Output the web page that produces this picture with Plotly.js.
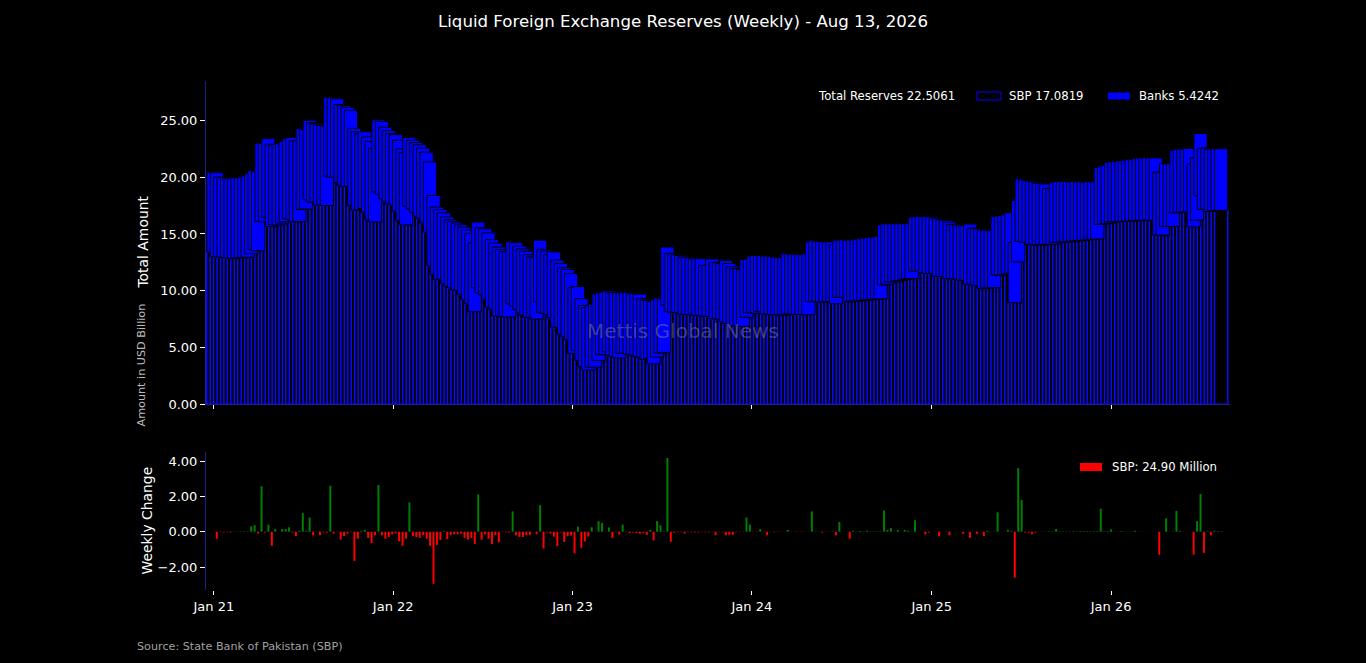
<!DOCTYPE html>
<html>
<head>
<meta charset="utf-8">
<script src="https://cdn.plot.ly/plotly-3.0.1.min.js"></script>
<style>
  html, body { margin: 0; padding: 0; background: #000; }
  #chart { width: 1366px; height: 663px; }
</style>
</head>
<body>
<div id="chart"></div>
<script>
// weekly liquid reserves, USD billion, one value per Thursday release
var first_release = '2020-12-31';

// SBP held reserves
var sbp = [
  13.41, 13.01, 12.99, 12.95, 12.93, 12.89, 12.87, 12.88, 12.90, 12.93,
  12.95, 13.25, 13.62, 13.52, 16.10, 16.05, 16.45, 15.65, 15.80, 15.80,
  15.95, 16.10, 16.35, 16.30, 16.05, 16.10, 17.15, 17.20, 18.00, 17.80,
  17.78, 17.58, 17.55, 17.50, 20.10, 20.00, 19.98, 19.53, 19.28, 19.18,
  19.15, 17.50, 17.10, 17.15, 17.25, 16.90, 16.25, 16.05, 18.70, 18.50,
  18.10, 17.80, 17.65, 17.55, 17.00, 16.20, 15.80, 17.45, 17.20, 16.90,
  16.55, 16.35, 15.95, 15.15, 12.20, 11.45, 10.98, 11.02, 10.60, 10.40,
  10.25, 10.10, 10.00, 9.65, 9.20, 8.85, 8.15, 10.25, 9.80, 9.65,
  9.25, 8.55, 8.35, 7.75, 7.77, 7.74, 7.69, 8.84, 8.64, 8.34,
  8.04, 7.84, 7.64, 7.64, 7.50, 9.00, 8.05, 8.00, 7.90, 7.62,
  6.80, 6.76, 6.18, 5.92, 5.70, 4.48, 4.76, 3.85, 3.30, 3.02,
  3.27, 3.26, 3.86, 4.36, 4.38, 4.62, 4.27, 4.24, 4.08, 4.48,
  4.50, 4.42, 4.38, 4.31, 4.20, 4.13, 3.95, 4.05, 3.56, 4.16,
  4.52, 4.55, 8.73, 8.16, 8.10, 8.08, 8.05, 7.95, 7.93, 7.90,
  7.86, 7.82, 7.80, 7.77, 7.74, 7.72, 7.52, 7.50, 7.47, 7.27,
  7.10, 6.92, 6.90, 6.88, 6.86, 7.66, 8.06, 8.04, 8.02, 8.17,
  8.15, 7.95, 7.93, 7.90, 7.88, 7.87, 7.86, 7.96, 7.95, 7.93,
  7.92, 7.90, 7.89, 7.88, 9.03, 9.05, 9.06, 9.01, 9.02, 9.03,
  9.05, 8.85, 9.40, 9.41, 9.42, 9.02, 9.07, 9.08, 9.12, 9.14,
  9.20, 9.22, 9.24, 9.26, 9.28, 10.48, 10.58, 10.78, 10.79, 10.89,
  10.90, 11.00, 11.05, 11.06, 11.71, 11.72, 11.72, 11.57, 11.52, 11.52,
  11.51, 11.26, 11.26, 11.25, 11.05, 11.05, 11.04, 11.04, 10.92, 10.92,
  10.57, 10.56, 10.44, 10.44, 10.19, 10.24, 10.25, 10.27, 11.37, 11.38,
  11.39, 11.49, 11.54, 8.94, 12.54, 14.34, 14.29, 14.24, 14.09, 14.04,
  14.04, 14.05, 14.06, 14.08, 14.10, 14.25, 14.27, 14.29, 14.31, 14.33,
  14.36, 14.38, 14.41, 14.44, 14.47, 14.50, 14.52, 14.55, 15.85, 15.88,
  15.92, 16.05, 16.06, 16.07, 16.10, 16.11, 16.12, 16.13, 16.18, 16.19,
  16.20, 16.20, 16.21, 16.21, 16.20, 14.90, 14.90, 15.65, 15.66, 15.67,
  16.85, 16.90, 16.91, 16.92, 16.92, 15.62, 16.22, 18.35, 17.15, 17.18,
  16.98, 17.03, 17.057, 17.0819
];

// commercial banks' reserves
var banks = [
  7.04, 7.39, 7.01, 7.05, 7.02, 7.01, 7.03, 7.07, 7.05, 7.07,
  7.15, 7.05, 6.98, 6.98, 6.90, 6.95, 6.95, 7.25, 7.05, 7.10,
  7.00, 7.05, 7.05, 7.20, 7.15, 7.10, 7.15, 7.00, 7.00, 7.00,
  6.92, 7.02, 7.00, 7.00, 6.95, 7.00, 6.92, 6.87, 7.02, 6.97,
  6.75, 6.80, 6.90, 6.70, 6.75, 6.65, 6.90, 6.50, 6.35, 6.40,
  6.30, 6.30, 6.20, 6.20, 6.25, 6.30, 6.35, 6.05, 6.05, 6.15,
  6.30, 6.22, 6.25, 6.20, 6.20, 5.92, 6.15, 5.85, 5.90, 5.85,
  5.85, 5.85, 5.80, 5.95, 6.15, 6.20, 6.05, 5.80, 5.75, 5.80,
  5.85, 5.95, 5.85, 6.10, 5.85, 5.70, 5.75, 5.50, 5.60, 5.60,
  5.65, 5.65, 5.55, 5.40, 5.45, 5.45, 5.60, 5.50, 5.30, 5.80,
  5.90, 5.65, 5.85, 5.95, 5.80, 5.80, 5.60, 5.45, 5.40, 5.50,
  5.45, 5.55, 5.85, 5.45, 5.50, 5.35, 5.55, 5.60, 5.75, 5.35,
  5.35, 5.45, 5.40, 5.45, 5.50, 5.20, 5.25, 5.10, 5.50, 5.05,
  4.85, 4.75, 5.12, 5.14, 5.16, 5.10, 5.05, 5.02, 5.04, 5.00,
  4.96, 5.03, 5.02, 4.45, 4.50, 5.08, 4.98, 5.00, 4.93, 5.40,
  5.30, 5.18, 5.04, 5.06, 5.04, 5.10, 4.70, 5.02, 5.08, 4.95,
  4.95, 5.10, 5.12, 5.10, 5.08, 5.05, 5.07, 5.30, 5.30, 5.28,
  5.30, 5.32, 5.30, 5.35, 5.26, 5.39, 5.30, 5.35, 5.30, 5.27,
  5.25, 5.20, 5.05, 5.05, 5.08, 5.40, 5.40, 5.40, 5.42, 5.45,
  5.44, 5.45, 5.46, 5.47, 5.52, 5.32, 5.32, 5.12, 5.11, 5.01,
  5.00, 4.90, 4.85, 4.84, 4.79, 4.80, 4.83, 4.98, 5.03, 4.98,
  4.90, 5.09, 5.00, 4.95, 5.00, 4.80, 4.78, 4.76, 4.86, 4.85,
  5.30, 4.95, 5.06, 5.02, 5.21, 5.10, 5.07, 5.03, 5.18, 5.20,
  5.24, 5.20, 5.33, 5.30, 5.41, 5.52, 5.51, 5.48, 5.56, 5.53,
  5.46, 5.40, 5.34, 4.92, 4.92, 5.30, 5.33, 5.36, 5.32, 5.30,
  5.22, 5.24, 5.18, 5.16, 5.10, 5.12, 5.08, 5.05, 5.02, 5.10,
  5.12, 5.25, 5.30, 5.31, 5.32, 5.35, 5.38, 5.42, 5.40, 5.45,
  5.48, 5.50, 5.52, 5.50, 5.50, 5.55, 5.55, 5.55, 5.52, 5.53,
  5.55, 5.55, 5.58, 5.58, 5.60, 5.55, 5.50, 5.50, 5.40, 5.38,
  5.47, 5.45, 5.44, 5.4242
];

var title_text = 'Liquid Foreign Exchange Reserves (Weekly) - Aug 13, 2026';
var source_text = 'Source: State Bank of Pakistan (SBP)';
var watermark = 'Mettis Global News';

var DAY = 86400000;

// release dates, one per week
var make_weeks = function (start, n) {
  var t0 = Date.parse(start + 'T00:00:00Z');
  var out = [];
  for (var i = 0; i < n; i++) {
    out.push(new Date(t0 + i * 7 * DAY).toISOString().slice(0, 10));
  }
  return out;
};

var dates = make_weeks(first_release, sbp.length);

// week on week change in SBP reserves
var chg_x = [];
var chg_y = [];
var chg_col = [];
for (var i = 1; i < sbp.length; i++) {
  var d = sbp[i] - sbp[i - 1];
  chg_x.push(dates[i]);
  chg_y.push(d);
  chg_col.push(d >= 0 ? '#008000' : '#ff0000');
}

var last = sbp.length - 1;
var total_last = sbp[last] + banks[last];
var last_chg_mn = chg_y[chg_y.length - 1] * 1000;

var trace_sbp = {
  x: dates,
  y: sbp,
  type: 'bar',
  width: 27 * DAY,
  marker: {color: '#000000', line: {color: '#0a0aff', width: 1.5}},
  xaxis: 'x', yaxis: 'y',
  hoverinfo: 'skip'
};

var trace_banks = {
  x: dates,
  y: banks,
  base: sbp,
  type: 'bar',
  width: 27 * DAY,
  marker: {color: '#0000ff', line: {color: '#000000', width: 1}},
  xaxis: 'x', yaxis: 'y',
  hoverinfo: 'skip'
};

var trace_chg = {
  x: chg_x,
  y: chg_y,
  type: 'bar',
  width: 4 * DAY,
  marker: {color: chg_col, line: {width: 0}},
  xaxis: 'x2', yaxis: 'y2',
  hoverinfo: 'skip'
};

// paper coordinates for a pixel position inside the plot area
var PL = 206, PW = 1024, PT = 81, PH = 509;
var px = function (p) { return (p - PL) / PW; };
var py = function (p) { return (PT + PH - p) / PH; };

var axis_line = '#1c1c8c';

var layout = {
  width: 1366,
  height: 663,
  paper_bgcolor: '#000000',
  plot_bgcolor: '#000000',
  font: {family: 'DejaVu Sans', color: '#ffffff', size: 13},
  margin: {l: PL, r: 1366 - PL - PW, t: PT, b: 663 - PT - PH},
  barmode: 'overlay',
  showlegend: false,
  hovermode: false,
  title: {
    text: title_text,
    x: 0.5, xref: 'container',
    y: 1 - 21 / 663, yref: 'container', yanchor: 'middle',
    font: {size: 16.6, color: '#ffffff'}
  },
  xaxis: {
    type: 'date',
    domain: [0, 1],
    anchor: 'y',
    range: ['2020-12-16', '2026-08-31'],
    tick0: '2021-01-01',
    dtick: 'M12',
    showticklabels: false,
    ticks: 'outside', ticklen: 4, tickcolor: '#ffffff',
    showgrid: false, zeroline: false,
    showline: true, linecolor: axis_line, linewidth: 1
  },
  xaxis2: {
    type: 'date',
    domain: [0, 1],
    anchor: 'y2',
    matches: 'x',
    tick0: '2021-01-01',
    dtick: 'M12',
    tickformat: '%b %y',
    ticks: 'outside', ticklen: 4, tickcolor: '#ffffff',
    tickfont: {size: 13, color: '#ffffff'},
    showgrid: false, zeroline: false, showline: false
  },
  yaxis: {
    domain: [py(404.3), 1],
    range: [0, 28.47],
    tickvals: [0, 5, 10, 15, 20, 25],
    tickformat: '.2f',
    ticks: 'outside', ticklen: 5, tickcolor: '#ffffff',
    tickfont: {size: 13, color: '#ffffff'},
    showgrid: false, zeroline: false,
    showline: true, linecolor: axis_line, linewidth: 1
  },
  yaxis2: {
    domain: [0, py(451.7)],
    range: [-3.3, 4.53],
    tickvals: [-2, 0, 2, 4],
    tickformat: '.2f',
    ticks: 'outside', ticklen: 5, tickcolor: '#ffffff',
    tickfont: {size: 13, color: '#ffffff'},
    showgrid: false, zeroline: false,
    showline: true, linecolor: axis_line, linewidth: 1
  },
  shapes: [
    // legend swatches
    {type: 'rect', xref: 'paper', yref: 'paper',
     x0: px(977), x1: px(1001), y0: py(100), y1: py(92),
     fillcolor: '#000000', line: {color: '#0000ff', width: 1}},
    {type: 'rect', xref: 'paper', yref: 'paper',
     x0: px(1108), x1: px(1130), y0: py(99.5), y1: py(92.5),
     fillcolor: '#0000ff', line: {width: 0}},
    {type: 'rect', xref: 'paper', yref: 'paper',
     x0: px(1080), x1: px(1102), y0: py(471), y1: py(463),
     fillcolor: chg_col[0], line: {width: 0}}
  ],
  annotations: [
    {text: watermark, xref: 'paper', yref: 'paper', x: px(683), y: py(331),
     xanchor: 'center', yanchor: 'middle', showarrow: false,
     font: {size: 20, color: 'rgba(140,140,140,0.45)'}},
    {text: 'Total Amount', xref: 'paper', yref: 'paper', x: px(142), y: py(242.5),
     textangle: -90, xanchor: 'center', yanchor: 'middle', showarrow: false,
     font: {size: 13.9, color: '#ffffff'}},
    {text: 'Amount in USD Billion', xref: 'paper', yref: 'paper', x: px(141), y: py(365.5),
     textangle: -90, xanchor: 'center', yanchor: 'middle', showarrow: false,
     font: {size: 11.2, color: '#bbbbbb'}},
    {text: 'Weekly Change', xref: 'paper', yref: 'paper', x: px(146), y: py(520.5),
     textangle: -90, xanchor: 'center', yanchor: 'middle', showarrow: false,
     font: {size: 13.9, color: '#ffffff'}},
    {text: 'Total Reserves ' + total_last.toFixed(4), xref: 'paper', yref: 'paper',
     x: px(816), y: py(96), xanchor: 'left', yanchor: 'middle', showarrow: false,
     font: {size: 11.7, color: '#ffffff'}},
    {text: 'SBP ' + sbp[last].toFixed(4), xref: 'paper', yref: 'paper',
     x: px(1007), y: py(96), xanchor: 'left', yanchor: 'middle', showarrow: false,
     font: {size: 11.7, color: '#ffffff'}},
    {text: 'Banks ' + banks[last].toFixed(4), xref: 'paper', yref: 'paper',
     x: px(1137), y: py(96), xanchor: 'left', yanchor: 'middle', showarrow: false,
     font: {size: 11.7, color: '#ffffff'}},
    {text: 'SBP: ' + last_chg_mn.toFixed(2) + ' Million', xref: 'paper', yref: 'paper',
     x: px(1110), y: py(467), xanchor: 'left', yanchor: 'middle', showarrow: false,
     font: {size: 11.7, color: '#ffffff'}},
    {text: source_text, xref: 'paper', yref: 'paper', x: px(135), y: py(646),
     xanchor: 'left', yanchor: 'middle', showarrow: false,
     font: {size: 11.2, color: '#a0a0a0'}}
  ]
};

Plotly.newPlot('chart', [trace_sbp, trace_banks, trace_chg], layout,
  {displayModeBar: false, staticPlot: true});
</script>
</body>
</html>
